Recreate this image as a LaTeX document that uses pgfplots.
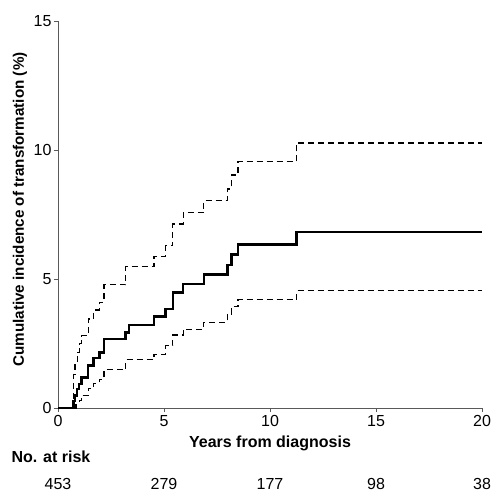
\documentclass[border=0pt]{standalone}
\usepackage{fontspec}
\setmainfont{Liberation Sans}
\usepackage{pgfplots}
\pgfplotsset{compat=1.18}
\begin{document}
\begin{tikzpicture}
\begin{axis}[
  name=ax,
  scale only axis,
  width=424bp, height=387bp,
  xmin=0, xmax=20, ymin=0, ymax=15,
  xtick={0,5,10,15,20}, ytick={0,5,10,15},
  axis x line*=bottom, axis y line*=left,
  axis line style={draw=black!65, line width=0.9bp},
  tick style={draw=black!65, line width=0.9bp},
  tick align=outside, major tick length=4bp,
  font=\fontsize{16bp}{18bp}\selectfont,
  /pgf/number format/assume math mode=true,
  yticklabel style={xshift=1bp},
  xlabel={\bfseries Years from diagnosis},
  ylabel={\fontsize{15.2bp}{17bp}\selectfont\bfseries Cumulative incidence of transformation (\%)},
  xlabel style={at={(axis description cs:0.5,0)},anchor=center,yshift=-35bp},
  ylabel style={at={(axis description cs:0,0.5)},anchor=center,yshift=38bp,xshift=5bp},
  clip=false,
]
\addplot[const plot, black, line width=2.5bp] coordinates {
(0,0) (0.71,0) (0.74,0.28) (0.8,0.48) (0.9,0.74) (1.0,0.93) (1.1,1.19) (1.42,1.64) (1.68,1.93) (1.95,2.16) (2.17,2.67) (3.19,2.93) (3.35,3.22) (4.53,3.55) (5.08,3.84) (5.42,4.48) (5.9,4.81) (6.88,5.17) (7.99,5.55) (8.18,5.94) (8.49,6.33) (11.25,6.83) (20,6.83)
};
\addplot[const plot, black, line width=1.1bp, dash pattern=on 6bp off 4bp] coordinates {
(0.71,0) (0.74,1.3) (0.8,1.77) (0.9,2.16) (1.0,2.5) (1.1,2.8) (1.42,3.45) (1.68,3.8) (1.95,4.1) (2.17,4.77) (3.19,5.48) (4.53,5.88) (5.08,6.29) (5.42,7.13) (5.9,7.57) (6.88,8.04) (7.99,8.49) (8.18,9.03) (8.49,9.55) (11.25,10.27) (20,10.27)
};
\addplot[const plot, black, line width=1.1bp, dash pattern=on 6bp off 4bp] coordinates {
(0.8,0) (0.85,0.14) (1.0,0.3) (1.1,0.48) (1.42,0.76) (1.68,0.95) (1.95,1.12) (2.17,1.48) (3.19,1.87) (4.53,2.09) (5.08,2.41) (5.42,2.83) (5.9,3.05) (6.88,3.32) (7.99,3.64) (8.18,3.93) (8.49,4.2) (11.25,4.55) (20,4.55)
};
\node[anchor=west, font=\fontsize{16bp}{18bp}\selectfont\bfseries] at ([xshift=-50bp,yshift=-49bp]rel axis cs:0,0) {No. at risk};
\node[font=\fontsize{16bp}{18bp}\selectfont] at ([yshift=-76bp]axis cs:0,0) {453};
\node[font=\fontsize{16bp}{18bp}\selectfont] at ([yshift=-76bp]axis cs:5,0) {279};
\node[font=\fontsize{16bp}{18bp}\selectfont] at ([yshift=-76bp]axis cs:10,0) {177};
\node[font=\fontsize{16bp}{18bp}\selectfont] at ([yshift=-76bp]axis cs:15,0) {98};
\node[font=\fontsize{16bp}{18bp}\selectfont] at ([yshift=-76bp]axis cs:20,0) {38};
\end{axis}
\pgfresetboundingbox
\path ([shift={(-58bp,-85bp)}]ax.south west) rectangle ([shift={(10bp,21bp)}]ax.north east);
\end{tikzpicture}
\end{document}
